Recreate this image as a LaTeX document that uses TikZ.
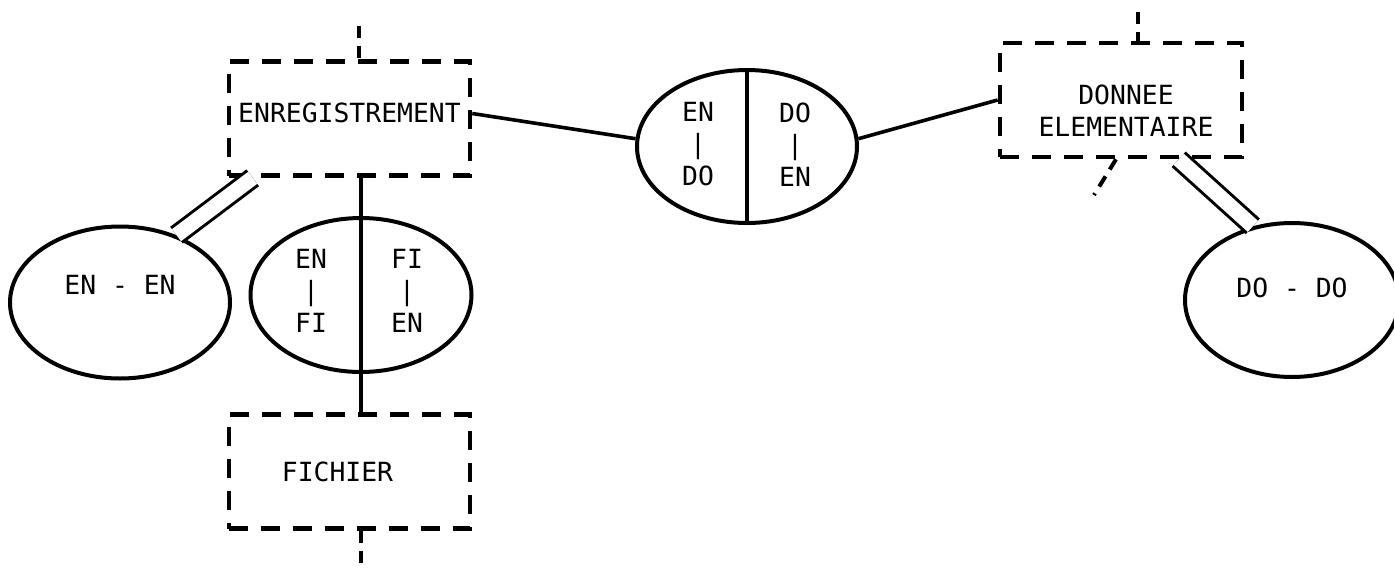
\documentclass[tikz,border=0pt]{standalone}
\usepackage{fontspec}
\newfontfamily\typefont{DejaVu Sans Mono}
\usetikzlibrary{positioning,shapes}
\tikzstyle{ebox}=[rectangle, draw=black, line width=2.3pt,
                  dash pattern=on 9.5pt off 6.5pt, minimum width=120.5pt,
                  minimum height=57pt, inner sep=0pt]
\tikzstyle{rell}=[ellipse, draw=black, line width=2pt, inner sep=0pt]
\tikzstyle{etxt}=[inner sep=0pt, align=center]
\tikzstyle{pline}=[-, line width=1.8pt]
\tikzstyle{dline}=[-, line width=2pt, dash pattern=on 6pt off 4pt]
\tikzstyle{dbl}=[-, double, line width=1.5pt, double distance=7.5pt]

\begin{document}
\begin{tikzpicture}[x=0.5pt, y=-0.5pt,
  font=\typefont\fontsize{13.2pt}{16pt}\selectfont]
\useasboundingbox (0,0) rectangle (1394,569);

% entities
\node (ENREG) [ebox] at (349.5,118.5) {};
\node (ENREGT) [etxt] at ([yshift=3pt]ENREG.center) {ENREGISTREMENT};
\node (FICHIER) [ebox, below=117.25pt of ENREG] {};
\node (FICHIERT) [etxt] at ([xshift=-6pt]FICHIER.center) {FICHIER};
\node (DONNEE) [ebox, minimum width=121pt] at (1121,100) {};
\node (DONNEET) [etxt] at ([xshift=2.5pt,yshift=-5.5pt]DONNEE.center) {DONNEE\\ELEMENTAIRE};

% relations
\node (ENEN) [rell, minimum width=110pt, minimum height=76pt] at (120,302.5) {};
\node (ENENT) [etxt] at ([yshift=9pt]ENEN.center) {EN - EN};

\node (ENFI) [rell, minimum width=110.5pt, minimum height=77pt] at (361,295) {};
\node (ENFIL) [etxt] at ([xshift=-25pt,yshift=2pt]ENFI.center) {EN\\|\\FI};
\node (ENFIR) [etxt] at ([xshift=23pt,yshift=2pt]ENFI.center) {FI\\|\\EN};

\node (ENDO) [rell, minimum width=110pt, minimum height=76.5pt] at (747,146.5) {};
\node (ENDOL) [etxt] at ([xshift=-24.5pt,yshift=1pt]ENDO.center) {EN\\|\\DO};
\node (ENDOR) [etxt] at ([xshift=24pt,yshift=1pt]ENDO.center) {DO\\|\\EN};

\node (DODO) [rell, minimum width=107pt, minimum height=77pt] at (1292,300) {};
\node (DODOT) [etxt] at ([yshift=6pt]DODO.center) {DO - DO};

% stubs
\coordinate (ENTOP) at (359,26);
\coordinate (DOTOP) at (1138,12);
\coordinate (FIBOT) at (361,569);
\coordinate (DOSTUB) at (1094,195);
\draw[dline] (ENTOP) -- (ENTOP |- ENREG.north);
\draw[dline] (DOTOP) -- (DOTOP |- DONNEE.north);
\draw[dline] (FIBOT |- FICHIER.south) -- (FIBOT);
\draw[dline] ([xshift=-2.5pt]DONNEE.south) -- (DOSTUB);

% links
\draw[pline] ([yshift=2.5pt]ENREG.east) -- (ENDO.176);
\draw[pline] (ENDO.4) -- (DONNEE.west);
\draw[pline, line width=2.2pt] (ENDO.north) -- (ENDO.south);
\draw[pline] (ENFI |- ENREG.south) -- (ENFI |- FICHIER.north);
\draw[dbl] ([xshift=13pt]ENREG.south west) -- (ENEN.50);
\draw[dbl] ([xshift=90.5pt]DONNEE.south west) -- (DODO.118);

\end{tikzpicture}
\end{document}
